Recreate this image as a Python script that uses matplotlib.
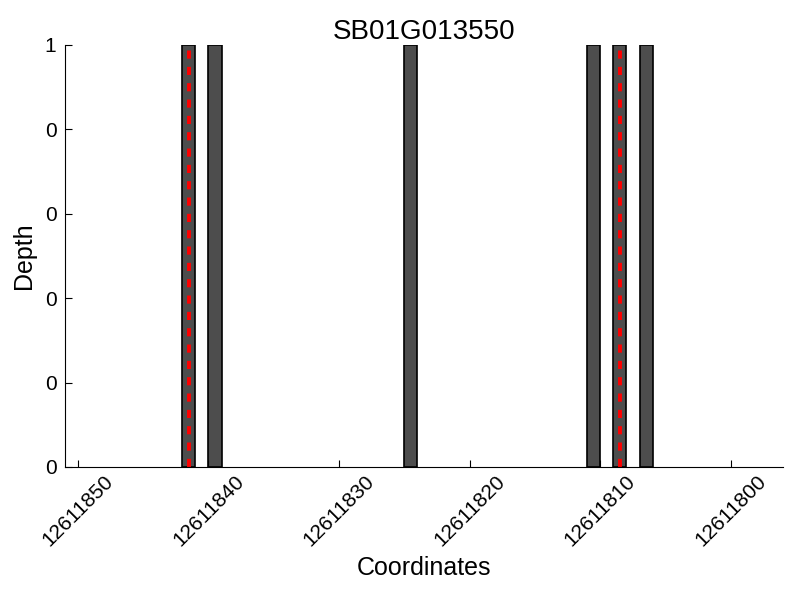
import numpy as np
import matplotlib
matplotlib.use('Agg')
import matplotlib.pyplot as plt
from matplotlib.ticker import FormatStrFormatter

plt.rcParams['font.family'] = ['Liberation Sans', 'DejaVu Sans']

# read coverage positions and depth
positions = [12611841, 12611839, 12611824, 12611810, 12611808, 12611806]
depth = [1, 1, 1, 1, 1, 1]
# variant sites (red dashed lines)
variants = [12611841.5, 12611808.5]
xticks = [12611850, 12611840, 12611830, 12611820, 12611810, 12611800]
yticks = [0, 0.2, 0.4, 0.6, 0.8, 1.0]

fig = plt.figure(figsize=(8, 6), dpi=100)
ax = fig.add_axes([0.081, 0.2217, 0.898, 0.7033])

ax.bar(positions, depth, width=1, align='edge', color='#4d4d4d', edgecolor='black', linewidth=1.2)
for v in variants:
    ax.axvline(v, color='red', linestyle='--', linewidth=2.8, dashes=(2.1, 2.1))

ax.set_xlim(12611851, 12611796)
ax.set_ylim(0, 1)
ax.set_xticks(xticks)
ax.set_xticklabels([str(t) for t in xticks], rotation=45, fontsize=15)
ax.set_yticks(yticks)
ax.yaxis.set_major_formatter(FormatStrFormatter('%d'))
ax.tick_params(axis='y', labelsize=15, pad=6)
ax.tick_params(direction='in', length=5, top=False, right=False)
ax.spines['top'].set_visible(False)
ax.spines['right'].set_visible(False)

ax.set_xlabel('Coordinates', fontsize=18)
ax.set_ylabel('Depth', fontsize=18, labelpad=6)
ax.set_title('SB01G013550', fontsize=20, pad=4)

fig.savefig('out.png', dpi=100)
